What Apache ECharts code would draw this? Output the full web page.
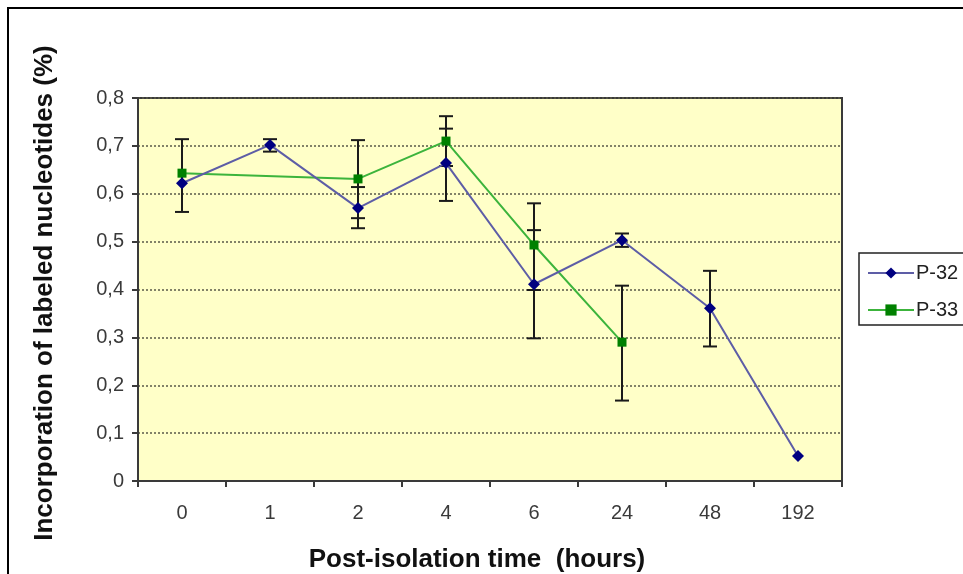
<!DOCTYPE html>
<html><head><meta charset="utf-8">
<script src="https://cdn.jsdelivr.net/npm/echarts@6/dist/echarts.min.js"></script>
<style>html,body{margin:0;padding:0;background:#fff}#c{width:963px;height:574px}</style>
</head><body><div id="c"></div>
<script>
const categories = ['0', '1', '2', '4', '6', '24', '48', '192'];
const p32 = [0.622, 0.702, 0.570, 0.664, 0.411, 0.503, 0.361, 0.052];
const p33 = [0.643, null, 0.631, 0.710, 0.493, 0.290, null, null];
const p32Low = [null, 0.688, 0.528, 0.585, 0.298, 0.489, 0.281, null];
const p32High = [null, 0.714, 0.614, 0.736, 0.524, 0.517, 0.439, null];
const p33Low = [0.562, null, 0.549, 0.658, 0.399, 0.168, null, null];
const p33High = [0.714, null, 0.712, 0.762, 0.580, 0.408, null, null];
const yTickLabels = ['0', '0,1', '0,2', '0,3', '0,4', '0,5', '0,6', '0,7', '0,8'];
const xTitle = 'Post-isolation time  (hours)';
const yTitle = 'Incorporation of labeled nucleotides (%)';

function errData(lo, hi) {
  const out = [];
  lo.forEach((v, i) => { if (v != null && hi[i] != null) out.push([i, v, hi[i]]); });
  return out;
}
const errAll = errData(p32Low, p32High).concat(errData(p33Low, p33High));

const chart = echarts.init(document.getElementById('c'), null, {renderer: 'canvas'});
const FONT = '"Liberation Sans", Arial, sans-serif';
chart.setOption({
  animation: false,
  backgroundColor: '#ffffff',
  grid: {left: 138, right: 121, top: 98, bottom: 93, show: true,
    backgroundColor: '#ffffc8', borderColor: '#3a3a3a', borderWidth: 2},
  xAxis: {
    type: 'category', data: categories, boundaryGap: true,
    axisLine: {lineStyle: {color: '#3a3a3a', width: 2}},
    axisTick: {show: true, alignWithLabel: false, length: 6, lineStyle: {color: '#3a3a3a', width: 2}},
    axisLabel: {color: '#3a3a3a', fontSize: 20, fontFamily: FONT, margin: 22},
    splitLine: {show: false}
  },
  yAxis: {
    type: 'value', min: 0, max: 0.8, interval: 0.1,
    axisLine: {show: true, lineStyle: {color: '#3a3a3a', width: 2}},
    axisTick: {show: true, length: 6, lineStyle: {color: '#3a3a3a', width: 2}},
    axisLabel: {color: '#3a3a3a', fontSize: 20, fontFamily: FONT, margin: 14,
      formatter: v => yTickLabels[Math.round(v * 10)]},
    splitLine: {show: true, lineStyle: {color: '#5a5a48', width: 1.5, type: [2, 2]}}
  },
  legend: {
    data: ['P-32', 'P-33'], orient: 'vertical', left: 859, top: 253,
    borderColor: '#222', borderWidth: 1.5, borderRadius: 0,
    padding: [10, 10, 5, 8], itemWidth: 46, itemHeight: 14, itemGap: 17,
    textStyle: {fontSize: 20, fontFamily: FONT, color: '#222', padding: [0, 0, 0, -3]}
  },
  graphic: [
    {type: 'rect', shape: {x: 8, y: 8, width: 1100, height: 700}, silent: true,
      style: {fill: 'none', stroke: '#000', lineWidth: 2}},
    {type: 'text', x: 477, y: 560, silent: true,
      style: {text: xTitle, font: 'bold 26px ' + FONT, fill: '#111', textAlign: 'center', textVerticalAlign: 'middle'}},
    {type: 'text', x: 45, y: 293, rotation: Math.PI / 2, silent: true,
      style: {text: yTitle, font: 'bold 26px ' + FONT, fill: '#111', textAlign: 'center', textVerticalAlign: 'middle'}}
  ],
  series: [
    {
      name: 'err', type: 'custom', z: 2, data: errAll,
      renderItem: (params, api) => {
        const x = api.value(0), lo = api.value(1), hi = api.value(2);
        const a = api.coord([x, hi]), b = api.coord([x, lo]);
        const w = 7, st = {stroke: '#1a1a1a', lineWidth: 2};
        return {type: 'group', children: [
          {type: 'line', shape: {x1: a[0], y1: a[1], x2: b[0], y2: b[1]}, style: st},
          {type: 'line', shape: {x1: a[0] - w, y1: a[1], x2: a[0] + w, y2: a[1]}, style: st},
          {type: 'line', shape: {x1: b[0] - w, y1: b[1], x2: b[0] + w, y2: b[1]}, style: st}
        ]};
      }
    },
    {
      name: 'P-32', type: 'line', data: p32, z: 4,
      symbol: 'diamond', symbolSize: 12,
      lineStyle: {color: '#5d5da6', width: 2},
      itemStyle: {color: '#000080', borderWidth: 0},
      color: '#000080'
    },
    {
      name: 'P-33', type: 'line', data: p33, z: 3, connectNulls: true,
      symbol: 'rect', symbolSize: 9,
      lineStyle: {color: '#3cb43c', width: 2},
      itemStyle: {color: '#008000', borderWidth: 0},
      color: '#008000'
    }
  ]
});
</script>
</body></html>
